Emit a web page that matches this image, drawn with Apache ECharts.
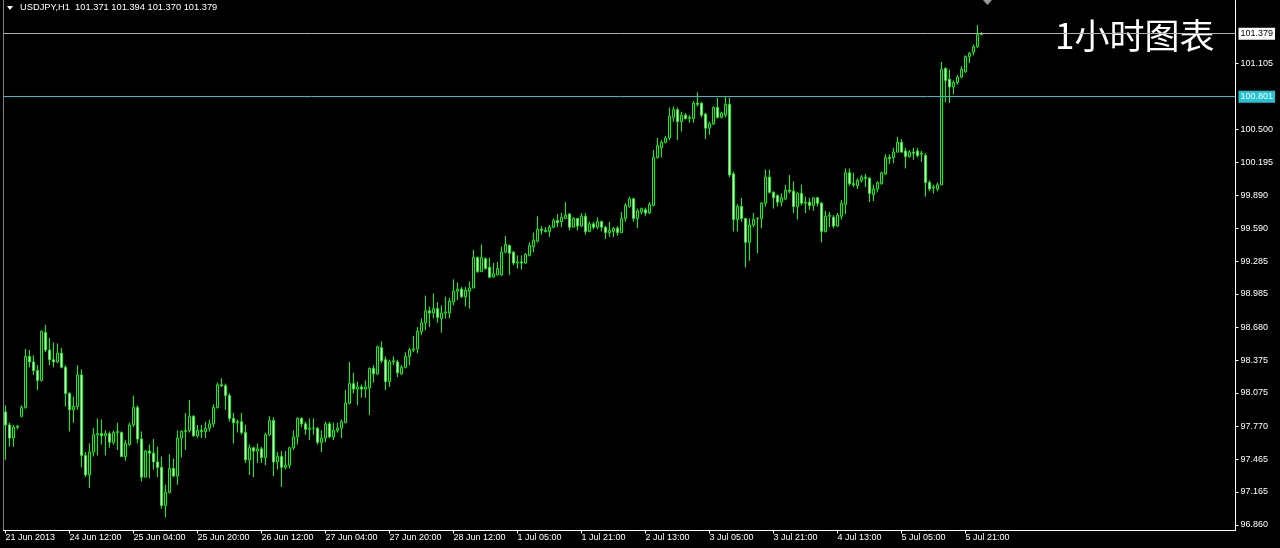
<!DOCTYPE html>
<html><head><meta charset="utf-8">
<script src="https://cdn.jsdelivr.net/npm/echarts@6/dist/echarts.min.js"></script>
<style>html,body{margin:0;padding:0;background:#000;overflow:hidden}#c{width:1280px;height:548px}</style>
</head><body><div id="c"></div>
<script>
const symbolName = 'USDJPY,H1';
const lastBarOHLC = [101.371, 101.394, 101.370, 101.379];

const openPrices = [
97.90,97.78,97.66,97.76,97.86,97.94,98.41,98.36,98.28,98.19,
98.63,98.47,98.38,98.36,98.44,98.31,98.07,97.92,97.95,98.24,
97.50,97.32,97.53,97.69,97.70,97.68,97.70,97.62,97.71,97.71,
97.49,97.60,97.78,97.94,97.65,97.30,97.54,97.52,97.44,97.39,
97.04,97.16,97.38,97.31,97.66,97.72,97.73,97.86,97.68,97.73,
97.72,97.75,97.79,97.94,98.15,98.14,98.05,97.84,97.80,97.81,
97.71,97.46,97.57,97.54,97.56,97.48,97.69,97.82,97.44,97.49,
97.39,97.41,97.57,97.67,97.84,97.79,97.74,97.75,97.75,97.62,
97.66,97.79,97.67,97.73,97.75,97.80,97.98,98.16,98.11,98.13,
98.11,98.12,98.30,98.25,98.49,98.38,98.18,98.36,98.36,98.25,
98.31,98.41,98.47,98.48,98.64,98.72,98.83,98.81,98.85,98.76,
98.81,98.81,98.91,99.01,99.03,98.96,99.01,99.04,99.32,99.19,
99.31,99.23,99.14,99.16,99.16,99.37,99.43,99.37,99.27,99.28,
99.27,99.34,99.42,99.47,99.58,99.57,99.56,99.60,99.66,99.65,
99.68,99.72,99.60,99.68,99.61,99.70,99.56,99.63,99.60,99.65,
99.60,99.55,99.56,99.59,99.55,99.68,99.79,99.86,99.68,99.74,
99.76,99.73,99.80,100.24,100.33,100.38,100.42,100.61,100.68,100.57,
100.63,100.60,100.60,100.74,100.74,100.64,100.51,100.55,100.70,100.61,
100.63,100.73,100.09,99.67,99.79,99.68,99.46,99.62,99.68,99.68,
99.82,100.06,99.92,99.89,99.83,99.86,99.94,99.93,99.79,99.91,
99.82,99.83,99.80,99.87,99.82,99.56,99.70,99.69,99.61,99.70,
99.81,100.10,100.00,99.98,100.03,100.06,100.05,99.90,99.95,100.00,
100.09,100.24,100.24,100.29,100.38,100.30,100.25,100.29,100.30,100.27,
100.26,100.01,99.96,99.95,99.99,101.06,100.96,100.89,100.93,100.98,
101.03,101.17,101.21,101.26,101.371
];
const closePrices = [
97.78,97.66,97.76,97.77,97.94,98.41,98.36,98.28,98.19,98.64,
98.47,98.38,98.36,98.44,98.31,98.07,97.92,97.95,98.24,97.50,
97.32,97.53,97.69,97.70,97.68,97.70,97.62,97.71,97.72,97.49,
97.61,97.78,97.94,97.65,97.30,97.54,97.52,97.44,97.39,97.04,
97.16,97.38,97.31,97.66,97.72,97.73,97.86,97.68,97.73,97.72,
97.75,97.79,97.94,98.15,98.14,98.05,97.84,97.80,97.81,97.71,
97.46,97.57,97.54,97.56,97.48,97.69,97.82,97.44,97.49,97.39,
97.41,97.57,97.67,97.84,97.79,97.74,97.75,97.75,97.62,97.66,
97.79,97.67,97.73,97.75,97.81,97.98,98.16,98.11,98.13,98.11,
98.13,98.30,98.25,98.50,98.37,98.18,98.36,98.37,98.26,98.31,
98.41,98.47,98.48,98.64,98.72,98.83,98.81,98.85,98.77,98.81,
98.82,98.92,99.01,99.03,98.96,99.02,99.04,99.32,99.19,99.32,
99.22,99.14,99.17,99.22,99.37,99.44,99.36,99.27,99.28,99.27,
99.35,99.43,99.48,99.58,99.57,99.56,99.60,99.66,99.64,99.69,
99.71,99.60,99.68,99.61,99.70,99.56,99.63,99.60,99.65,99.60,
99.55,99.57,99.59,99.55,99.68,99.80,99.86,99.68,99.75,99.77,
99.73,99.81,100.24,100.35,100.38,100.42,100.62,100.68,100.57,100.63,
100.60,100.61,100.74,100.73,100.63,100.51,100.55,100.70,100.61,100.65,
100.73,100.08,99.67,99.79,99.68,99.46,99.62,99.67,99.68,99.82,
100.06,99.92,99.87,99.83,99.87,99.94,99.93,99.79,99.91,99.82,
99.83,99.80,99.87,99.82,99.56,99.70,99.71,99.61,99.71,99.82,
100.10,100.00,99.99,100.03,100.06,100.05,99.91,99.95,100.01,100.10,
100.24,100.23,100.29,100.38,100.29,100.25,100.29,100.28,100.26,100.28,
100.01,99.95,99.97,99.99,101.05,100.95,100.89,100.93,100.98,101.05,
101.17,101.20,101.26,101.37,101.379
];
const lowPrices = [
97.46,97.58,97.58,97.74,97.85,97.93,98.31,98.24,98.10,98.18,
98.45,98.33,98.31,98.35,98.30,97.95,97.72,97.80,97.92,97.39,
97.30,97.20,97.49,97.50,97.60,97.50,97.57,97.60,97.55,97.49,
97.45,97.59,97.76,97.61,97.26,97.30,97.29,97.37,97.30,97.01,
96.93,97.15,97.30,97.23,97.48,97.55,97.71,97.67,97.66,97.66,
97.66,97.72,97.76,97.93,98.13,97.92,97.81,97.61,97.71,97.69,
97.43,97.32,97.30,97.43,97.43,97.41,97.68,97.31,97.37,97.21,
97.37,97.38,97.55,97.60,97.76,97.69,97.64,97.69,97.60,97.53,
97.62,97.66,97.64,97.71,97.66,97.80,97.97,98.07,97.96,98.03,
98.03,97.87,98.17,98.24,98.35,98.10,98.13,98.33,98.22,98.24,
98.30,98.33,98.45,98.44,98.61,98.65,98.68,98.76,98.72,98.63,
98.76,98.76,98.88,98.93,98.95,98.87,98.85,99.04,99.18,99.19,
99.21,99.13,99.14,99.16,99.15,99.36,99.16,99.25,99.22,99.21,
99.26,99.33,99.37,99.46,99.53,99.55,99.51,99.59,99.60,99.60,
99.68,99.57,99.60,99.57,99.60,99.53,99.56,99.58,99.58,99.56,
99.49,99.51,99.51,99.52,99.55,99.65,99.78,99.65,99.59,99.72,
99.70,99.72,99.79,100.23,100.24,100.37,100.40,100.57,100.40,100.48,
100.59,100.56,100.56,100.71,100.61,100.41,100.45,100.54,100.60,100.60,
100.61,100.06,99.56,99.56,99.65,99.23,99.29,99.60,99.36,99.59,
99.79,99.91,99.77,99.79,99.79,99.85,99.91,99.73,99.67,99.80,
99.73,99.76,99.75,99.79,99.46,99.55,99.60,99.59,99.60,99.67,
99.72,99.98,99.97,99.95,100.01,99.97,99.83,99.84,99.92,99.99,
100.08,100.18,100.19,100.29,100.29,100.14,100.24,100.22,100.24,100.20,
99.88,99.93,99.91,99.93,99.99,100.75,100.74,100.82,100.91,100.97,
101.02,101.11,101.18,101.25,101.370
];
const highPrices = [
97.96,97.80,97.78,97.78,97.96,98.48,98.47,98.42,98.33,98.65,
98.70,98.58,98.54,98.53,98.49,98.33,98.08,98.04,98.33,98.29,
97.53,97.61,97.75,97.84,97.83,97.73,97.72,97.73,97.80,97.72,
97.64,97.80,98.05,97.96,97.72,97.55,97.60,97.65,97.58,97.49,
97.23,97.51,97.47,97.73,97.73,97.89,98.01,97.87,97.78,97.78,
97.81,97.83,97.97,98.17,98.21,98.16,98.07,97.89,97.83,97.89,
97.78,97.60,97.58,97.61,97.58,97.71,97.86,97.85,97.53,97.54,
97.54,97.58,97.73,97.85,97.85,97.81,97.84,97.84,97.76,97.73,
97.81,97.81,97.80,97.80,97.83,98.10,98.36,98.26,98.18,98.15,
98.19,98.31,98.33,98.51,98.55,98.41,98.38,98.41,98.38,98.33,
98.45,98.49,98.60,98.68,98.76,98.97,98.87,98.99,98.91,98.88,
98.96,98.95,99.12,99.09,99.05,99.05,99.10,99.39,99.33,99.44,
99.32,99.32,99.27,99.28,99.42,99.52,99.44,99.38,99.34,99.34,
99.36,99.46,99.55,99.70,99.61,99.60,99.62,99.68,99.72,99.73,
99.83,99.73,99.69,99.68,99.73,99.73,99.65,99.65,99.69,99.66,
99.61,99.65,99.60,99.61,99.74,99.82,99.88,99.87,99.77,99.78,
99.78,99.83,100.31,100.42,100.40,100.44,100.70,100.71,100.70,100.66,
100.65,100.63,100.76,100.84,100.75,100.65,100.57,100.71,100.79,100.66,
100.80,100.79,100.11,99.81,99.87,99.68,99.68,99.73,99.69,99.83,
100.13,100.13,99.93,99.90,99.91,99.99,100.08,100.02,99.92,99.99,
99.88,99.87,99.87,99.88,99.83,99.75,99.74,99.71,99.73,99.85,
100.14,100.14,100.10,100.05,100.08,100.09,100.06,99.99,100.02,100.11,
100.27,100.27,100.33,100.43,100.41,100.33,100.31,100.33,100.33,100.30,
100.28,100.03,99.99,100.01,101.12,101.07,101.05,100.95,101.00,101.08,
101.18,101.21,101.28,101.46,101.394
];

const timeLabels = ['21 Jun 2013','24 Jun 12:00','25 Jun 04:00','25 Jun 20:00','26 Jun 12:00','27 Jun 04:00','27 Jun 20:00','28 Jun 12:00','1 Jul 05:00','1 Jul 21:00','2 Jul 13:00','3 Jul 05:00','3 Jul 21:00','4 Jul 13:00','5 Jul 05:00','5 Jul 21:00'];
const priceTicks = [96.860,97.165,97.465,97.770,98.075,98.375,98.680,98.985,99.285,99.590,99.890,100.195,100.500,101.105];
const bidPrice = 101.379;
const levelPrice = 100.801;
const chartTitle = '1小时图表';

const slotCount = 308;
const labelEvery = 16;
const candles = openPrices.map((o, i) => [o, closePrices[i], lowPrices[i], highPrices[i]]);
const slots = Array.from({length: slotCount}, (_, i) => String(i));
const headerText = symbolName + '  ' + lastBarOHLC.map(v => v.toFixed(3)).join(' ');
const hasTimeLabel = i => i % labelEvery === 0 && i / labelEvery < timeLabels.length;

const chart = echarts.init(document.getElementById('c'), null, {renderer: 'canvas'});
chart.setOption({
  backgroundColor: '#000000',
  animation: false,
  grid: {left: 3.5, right: 44.5, top: 0.5, bottom: 17.5},
  xAxis: {
    type: 'category', data: slots, boundaryGap: true,
    axisLine: {show: true, lineStyle: {color: '#ffffff', width: 1}},
    axisTick: {show: true, interval: i => hasTimeLabel(i), alignWithLabel: true, length: 3, lineStyle: {color: '#ffffff'}},
    axisLabel: {
      interval: i => hasTimeLabel(i), align: 'left', margin: 3, color: '#ffffff',
      fontSize: 9, fontFamily: 'Liberation Sans',
      formatter: (v, i) => hasTimeLabel(i) ? timeLabels[i / labelEvery] : ''
    },
    splitLine: {show: false}
  },
  yAxis: {
    type: 'value', position: 'right', min: 96.809, max: 101.685,
    axisLine: {show: true, lineStyle: {color: '#ffffff', width: 1}},
    axisTick: {show: true, length: 3, customValues: priceTicks, lineStyle: {color: '#ffffff'}},
    axisLabel: {customValues: priceTicks, color: '#ffffff', fontSize: 9, fontFamily: 'Liberation Sans', margin: 5, formatter: v => v.toFixed(3)},
    splitLine: {show: false}
  },
  series: [{
    type: 'candlestick',
    data: candles,
    barWidth: 3,
    itemStyle: {color: '#000000', color0: '#ffffff', borderColor: '#00ff00', borderColor0: '#00ff00', borderWidth: 1},
    markLine: {
      silent: true, symbol: ['none', 'none'], animation: false,
      data: [
        {yAxis: bidPrice, lineStyle: {color: '#a9b0b8', width: 1, type: 'solid'},
         label: {show: true, position: 'end', distance: 3, formatter: bidPrice.toFixed(3), color: '#000000', backgroundColor: '#ffffff', padding: [2, 2, 1, 2], fontSize: 9, fontFamily: 'Liberation Sans'}},
        {yAxis: levelPrice, lineStyle: {color: '#22c4d4', width: 1, type: 'solid'},
         label: {show: true, position: 'end', distance: 3, formatter: levelPrice.toFixed(3), color: '#ffffff', backgroundColor: '#22c4d4', padding: [2, 2, 1, 2], fontSize: 9, fontFamily: 'Liberation Sans'}}
      ]
    }
  }],
  graphic: [
    {type: 'line', shape: {x1: 3.5, y1: 0, x2: 3.5, y2: 530}, style: {stroke: '#808080', lineWidth: 1}},
    {type: 'polygon', shape: {points: [[7, 6], [13, 6], [10, 10]]}, style: {fill: '#ffffff'}},
    {type: 'text', left: 20, top: 3, style: {text: headerText, fill: '#ffffff', font: '9.3px "Liberation Sans"'}},
    {type: 'text', left: 1055, top: 18, style: {text: chartTitle, fill: '#ffffff', font: '35px "Noto Sans CJK SC"'}},
    {type: 'polygon', shape: {points: [[983, 0], [992, 0], [987.5, 5]]}, style: {fill: '#9a9a9a'}}
  ]
});
</script>
</body></html>
